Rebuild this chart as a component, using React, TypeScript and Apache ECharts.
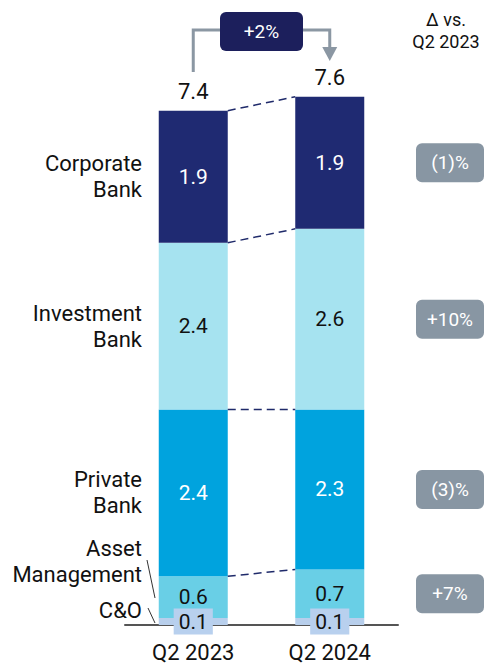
import React, { useEffect, useRef } from "react";
import * as echarts from "echarts";

const categories = ["Q2 2023", "Q2 2024"];
const coValues = [0.1, 0.1];
const amValues = [0.6, 0.7];
const pbValues = [2.4, 2.3];
const ibValues = [2.4, 2.6];
const cbValues = [1.9, 1.9];
const totals = [7.4, 7.6];
const changes = ["(1)%", "+10%", "(3)%", "+7%"]; // CB, IB, PB, AM
const headerChange = "+2%";

const FONT = "Roboto, 'Noto Sans', sans-serif";
const BAR_W = 69;

export default function App() {
  const ref = useRef<HTMLDivElement>(null);
  useEffect(() => {
    document.body.style.margin = "0";
    const chart = echarts.init(ref.current!, null, { renderer: "svg" });

    const cum = (i: number) => {
      const a = coValues[i] + amValues[i];
      const b = a + pbValues[i];
      const c = b + ibValues[i];
      const d = c + cbValues[i];
      return [a, b, c, d];
    };
    const c0 = cum(0);
    const c1 = cum(1);
    const connectors = c0.map((v, k) => [0, v, c1[k]]);

    const segLabel = (color: string) => ({
      show: true,
      position: "inside",
      color,
      fontSize: 21,
      fontFamily: FONT,
      formatter: (p: any) => Number(p.value).toFixed(1),
    });

    chart.setOption({
      animation: false,
      grid: { left: 125, width: 273, top: 69, bottom: 36 },
      xAxis: {
        type: "category",
        data: categories,
        axisLine: { lineStyle: { color: "#555", width: 2 } },
        axisTick: { show: false },
        axisLabel: { color: "#111", fontSize: 22, fontFamily: FONT, margin: 16 },
      },
      yAxis: { type: "value", min: 0, max: 8, show: false, splitLine: { show: false } },
      series: [
        {
          name: "C&O",
          type: "bar",
          stack: "a",
          barWidth: BAR_W,
          data: coValues,
          itemStyle: { color: "#b8cfec" },
          label: {
            show: true,
            position: "inside",
            color: "#111",
            fontSize: 21,
            fontFamily: FONT,
            backgroundColor: "#b8d0ee",
            padding: [3, 5, 2, 5],
            formatter: (p: any) => Number(p.value).toFixed(1),
          },
          z: 3,
        },
        { name: "Asset Management", type: "bar", stack: "a", barWidth: BAR_W, data: amValues, itemStyle: { color: "#69cfe6" }, label: segLabel("#111") },
        { name: "Private Bank", type: "bar", stack: "a", barWidth: BAR_W, data: pbValues, itemStyle: { color: "#00a3de" }, label: segLabel("#fff") },
        { name: "Investment Bank", type: "bar", stack: "a", barWidth: BAR_W, data: ibValues, itemStyle: { color: "#a6e3f0" }, label: segLabel("#111") },
        { name: "Corporate Bank", type: "bar", stack: "a", barWidth: BAR_W, data: cbValues, itemStyle: { color: "#1f2a72" }, label: segLabel("#fff") },
        {
          name: "Total",
          type: "bar",
          stack: "a",
          barWidth: BAR_W,
          data: [0, 0],
          itemStyle: { color: "transparent" },
          label: {
            show: true,
            position: "top",
            distance: 8,
            color: "#111",
            fontSize: 22,
            fontFamily: FONT,
            formatter: (p: any) => totals[p.dataIndex].toFixed(1),
          },
        },
        {
          type: "custom",
          data: connectors,
          encode: { x: 0, y: [1, 2] },
          z: 10,
          renderItem: (params: any, api: any) => {
            const a = api.coord([0, api.value(1)]);
            const b = api.coord([1, api.value(2)]);
            return {
              type: "line",
              shape: { x1: a[0] + BAR_W / 2, y1: a[1], x2: b[0] - BAR_W / 2, y2: b[1] },
              style: { stroke: "#1f2a6a", lineWidth: 1.5, lineDash: [8, 5] },
            };
          },
        },
      ],
    });

    const px = (x: number, y: number) => chart.convertToPixel({ gridIndex: 0 }, [x, y]) as number[];
    const mid0 = (lo: number, hi: number) => px(0, (lo + hi) / 2)[1];
    const mid1 = (lo: number, hi: number) => px(1, (lo + hi) / 2)[1];
    const x0 = px(0, 0)[0];
    const x1 = px(1, 0)[0];

    const textStyle = (extra: any) => ({ fontFamily: FONT, fill: "#111", fontSize: 22, lineHeight: 26, ...extra });
    const leftX = 142;

    const left = [
      { t: "Corporate\nBank", y: mid0(c0[2], c0[3]) },
      { t: "Investment\nBank", y: mid0(c0[1], c0[2]) },
      { t: "Private\nBank", y: mid0(c0[0], c0[1]) },
      { t: "Asset\nManagement", y: 561 },
      { t: "C&O", y: 610 },
    ];

    const rightCenters = [
      mid1(c1[2], c1[3]),
      mid1(c1[1], c1[2]),
      mid1(c1[0], c1[1]),
      mid1(coValues[1], c1[0]),
    ];

    const graphic: any[] = [];
    left.forEach((l) => {
      graphic.push({
        type: "text",
        x: leftX,
        y: l.y,
        style: textStyle({ text: l.t, align: "right", verticalAlign: "middle" }),
      });
    });
    graphic.push({ type: "line", shape: { x1: 147, y1: 560, x2: 155, y2: 598 }, style: { stroke: "#333", lineWidth: 1 } });
    graphic.push({ type: "line", shape: { x1: 148, y1: 608, x2: 155, y2: 623 }, style: { stroke: "#333", lineWidth: 1 } });

    rightCenters.forEach((cy, i) => {
      graphic.push({
        type: "rect",
        shape: { x: 416, y: cy - 19.5, width: 68, height: 39, r: 6 },
        style: { fill: "#8896a3" },
      });
      graphic.push({
        type: "text",
        x: 450,
        y: cy,
        style: { text: changes[i], fontFamily: FONT, fontSize: 19, fill: "#fff", align: "center", verticalAlign: "middle" },
      });
    });

    graphic.push({
      type: "text",
      x: 446,
      y: 30,
      style: { text: "Δ vs.\nQ2 2023", fontFamily: FONT, fontSize: 18, lineHeight: 22, fill: "#111", align: "center", verticalAlign: "middle" },
    });

    const gray = "#8b97a3";
    const yb = 30;
    graphic.push({ type: "polyline", shape: { points: [[x0, 72], [x0, yb], [225, yb]] }, style: { stroke: gray, lineWidth: 3, fill: null } });
    graphic.push({ type: "polyline", shape: { points: [[300, yb], [x1, yb], [x1, 49]] }, style: { stroke: gray, lineWidth: 3, fill: null } });
    graphic.push({ type: "polygon", shape: { points: [[x1 - 7.5, 47], [x1 + 7.5, 47], [x1, 61]] }, style: { fill: gray } });
    graphic.push({ type: "rect", shape: { x: 220, y: 12, width: 83, height: 39, r: 6 }, style: { fill: "#1c1f5c" } });
    graphic.push({
      type: "text",
      x: 261.5,
      y: 31.5,
      style: { text: headerChange, fontFamily: FONT, fontSize: 19, fill: "#fff", align: "center", verticalAlign: "middle" },
    });

    chart.setOption({ graphic });

    return () => chart.dispose();
  }, []);
  return <div ref={ref} style={{ width: 486, height: 663 }} />;
}
